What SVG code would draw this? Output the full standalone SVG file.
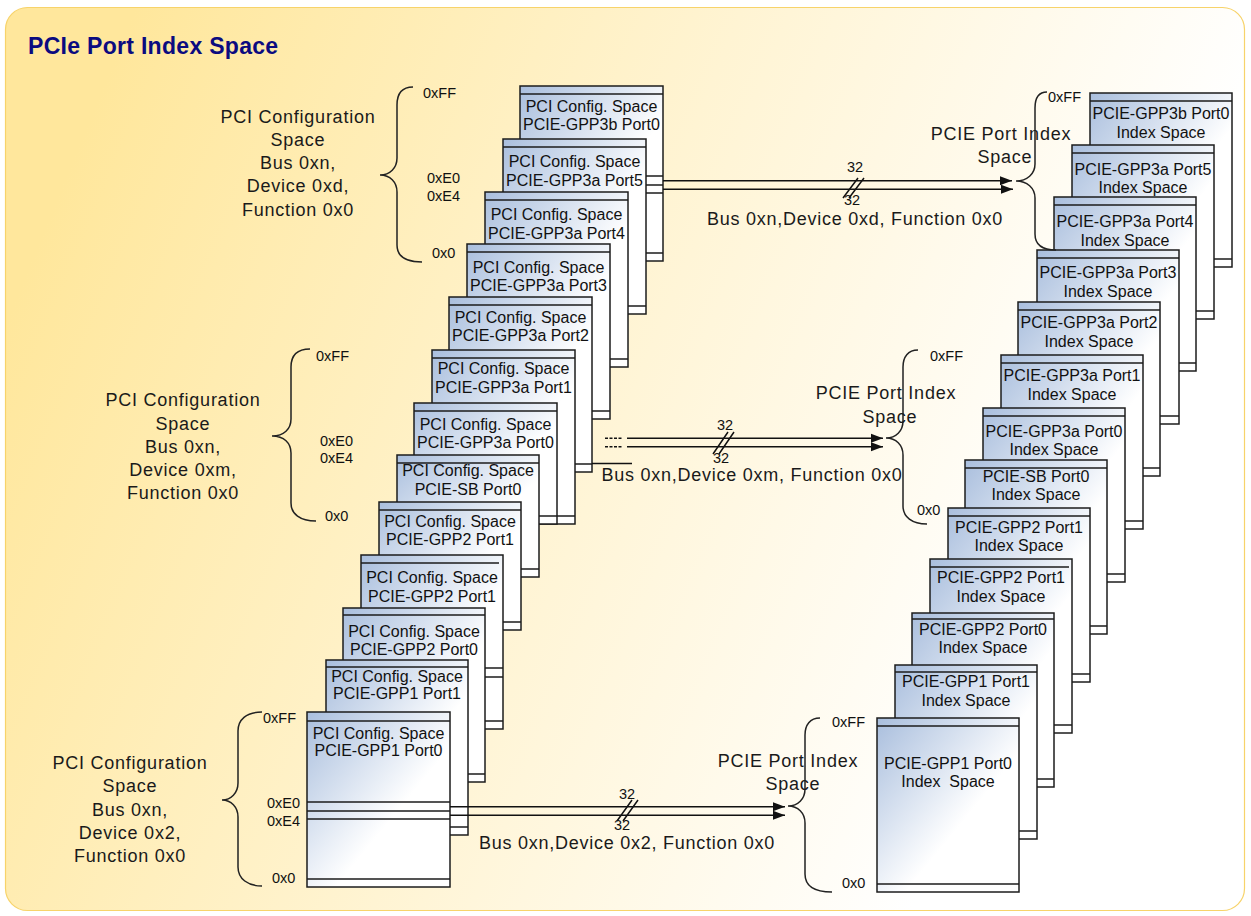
<svg xmlns="http://www.w3.org/2000/svg" width="1251" height="916" viewBox="0 0 1251 916">
<defs>
<linearGradient id="bg" x1="0" y1="0.35" x2="1" y2="0.65">
<stop offset="0" stop-color="#FFE79C"/>
<stop offset="0.45" stop-color="#FFF4D3"/>
<stop offset="0.85" stop-color="#FFFFFF"/>
</linearGradient>
<linearGradient id="g" x1="0" y1="0" x2="1" y2="1">
<stop offset="0" stop-color="#A9BEDD"/>
<stop offset="0.3" stop-color="#D3DEEE"/>
<stop offset="0.6" stop-color="#FFFFFF"/>
</linearGradient>
<marker id="ah" markerWidth="12" markerHeight="10" refX="12" refY="5" orient="auto" markerUnits="userSpaceOnUse">
<path d="M0,0.5 L12,5 L0,9.5 z" fill="#111"/>
</marker>
<style>
.bx{fill:url(#g);stroke:#1c1c1c;stroke-width:1.5}
.ln{fill:none;stroke:#1c1c1c;stroke-width:1.5}
.t{font-family:"Liberation Sans",Arial,sans-serif;font-size:16px;fill:#111;text-anchor:middle}
.lb{font-family:"Liberation Sans",Arial,sans-serif;font-size:18px;letter-spacing:0.75px;fill:#1a1a1a;text-anchor:middle}
.hx{font-family:"Liberation Sans",Arial,sans-serif;font-size:14.5px;fill:#111}
.n{font-family:"Liberation Sans",Arial,sans-serif;font-size:14.5px;fill:#111;text-anchor:middle}
.br{fill:none;stroke:#222;stroke-width:1.5}
.cn{fill:none;stroke:#111;stroke-width:1.5}
</style>
</defs>
<rect x="0" y="0" width="1251" height="916" fill="#FFFFFF"/>
<rect x="5.5" y="7.5" width="1239" height="903" rx="22" fill="url(#bg)" stroke="#F7D36A" stroke-width="1.2"/>
<text x="28" y="54" font-family="Liberation Sans, Arial, sans-serif" font-size="23" font-weight="bold" letter-spacing="0.3" fill="#0B0B80">PCIe Port Index Space</text>

<!-- left stack -->
<g id="L0"><rect class="bx" x="520" y="86" width="143" height="175"/><path class="ln" d="M520 94H663M520 176H663M520 185H663M520 193H663M520 253H663"/><text class="t" x="591.5" y="112">PCI Config. Space</text><text class="t" x="591.5" y="130">PCIE-GPP3b Port0</text></g>
<g id="L1"><rect class="bx" x="503" y="139" width="143" height="175"/><path class="ln" d="M503 147H646M503 306H646"/><text class="t" x="574.5" y="167">PCI Config. Space</text><text class="t" x="574.5" y="186">PCIE-GPP3a Port5</text></g>
<g id="L2"><rect class="bx" x="485" y="192" width="143" height="175"/><path class="ln" d="M485 200H628M485 359H628"/><text class="t" x="556.5" y="220">PCI Config. Space</text><text class="t" x="556.5" y="239">PCIE-GPP3a Port4</text></g>
<g id="L3"><rect class="bx" x="467" y="244" width="143" height="175"/><path class="ln" d="M467 252H610M467 411H610"/><text class="t" x="538.5" y="273">PCI Config. Space</text><text class="t" x="538.5" y="291">PCIE-GPP3a Port3</text></g>
<g id="L4"><rect class="bx" x="449" y="297" width="143" height="175"/><path class="ln" d="M449 305H592M449 464H592"/><text class="t" x="520.5" y="323">PCI Config. Space</text><text class="t" x="520.5" y="341">PCIE-GPP3a Port2</text></g>
<g id="L5"><rect class="bx" x="432" y="350" width="143" height="174"/><path class="ln" d="M432 358H575M432 516H575"/><text class="t" x="503.5" y="374">PCI Config. Space</text><text class="t" x="503.5" y="393">PCIE-GPP3a Port1</text></g>
<g id="L6"><rect class="bx" x="414" y="403" width="143" height="121"/><path class="ln" d="M414 411H557M414 516H557"/><text class="t" x="485.5" y="430">PCI Config. Space</text><text class="t" x="485.5" y="448">PCIE-GPP3a Port0</text></g>
<g id="L7"><rect class="bx" x="397" y="455" width="142" height="122"/><path class="ln" d="M397 463H539M397 569H539"/><text class="t" x="468" y="476">PCI Config. Space</text><text class="t" x="468" y="495">PCIE-SB Port0</text></g>
<g id="L8"><rect class="bx" x="379" y="502" width="142" height="128"/><path class="ln" d="M379 510H521M379 622H521"/><text class="t" x="450" y="527">PCI Config. Space</text><text class="t" x="450" y="545">PCIE-GPP2 Port1</text></g>
<g id="L9"><rect class="bx" x="361" y="555" width="142" height="174"/><path class="ln" d="M361 563H499M361 668H503M361 677H503M361 721H503"/><text class="t" x="432" y="583">PCI Config. Space</text><text class="t" x="432" y="602">PCIE-GPP2 Port1</text></g>
<g id="L10"><rect class="bx" x="343" y="608" width="142" height="174"/><path class="ln" d="M343 615H485M343 774H485"/><text class="t" x="414" y="637">PCI Config. Space</text><text class="t" x="414" y="655">PCIE-GPP2 Port0</text></g>
<g id="L11"><rect class="bx" x="326" y="660" width="142" height="175"/><path class="ln" d="M326 667H468M326 827H468"/><text class="t" x="397" y="682">PCI Config. Space</text><text class="t" x="397" y="699">PCIE-GPP1 Port1</text></g>
<g id="L12"><rect class="bx" x="307" y="712" width="143" height="175"/><path class="ln" d="M307 721H450M307 802H450M307 811H450M307 819H450M307 879H450"/><text class="t" x="378.5" y="739">PCI Config. Space</text><text class="t" x="378.5" y="756">PCIE-GPP1 Port0</text></g>

<!-- right stack -->
<g id="R0"><rect class="bx" x="1090" y="93" width="142" height="174"/><path class="ln" d="M1090 101H1232M1090 259H1232"/><text class="t" x="1161" y="119">PCIE-GPP3b Port0</text><text class="t" x="1161" y="138">Index Space</text></g>
<g id="R1"><rect class="bx" x="1072" y="145" width="142" height="174"/><path class="ln" d="M1072 153H1214M1072 311H1214"/><text class="t" x="1143" y="175">PCIE-GPP3a Port5</text><text class="t" x="1143" y="193">Index Space</text></g>
<g id="R2"><rect class="bx" x="1054" y="197" width="142" height="174"/><path class="ln" d="M1054 205H1196M1054 363H1196"/><text class="t" x="1125" y="227">PCIE-GPP3a Port4</text><text class="t" x="1125" y="246">Index Space</text></g>
<g id="R3"><rect class="bx" x="1037" y="250" width="142" height="174"/><path class="ln" d="M1037 258H1179M1037 416H1179"/><text class="t" x="1108" y="278">PCIE-GPP3a Port3</text><text class="t" x="1108" y="297">Index Space</text></g>
<g id="R4"><rect class="bx" x="1018" y="302" width="142" height="174"/><path class="ln" d="M1018 310H1160M1018 468H1160"/><text class="t" x="1089" y="328">PCIE-GPP3a Port2</text><text class="t" x="1089" y="347">Index Space</text></g>
<g id="R5"><rect class="bx" x="1001" y="355" width="142" height="174"/><path class="ln" d="M1001 363H1143M1001 521H1143"/><text class="t" x="1072" y="381">PCIE-GPP3a Port1</text><text class="t" x="1072" y="400">Index Space</text></g>
<g id="R6"><rect class="bx" x="983" y="408" width="142" height="174"/><path class="ln" d="M983 416H1125M983 574H1125"/><text class="t" x="1054" y="437">PCIE-GPP3a Port0</text><text class="t" x="1054" y="455">Index Space</text></g>
<g id="R7"><rect class="bx" x="965" y="460" width="142" height="174"/><path class="ln" d="M965 468H1107M965 626H1107"/><text class="t" x="1036" y="482">PCIE-SB Port0</text><text class="t" x="1036" y="500">Index Space</text></g>
<g id="R8"><rect class="bx" x="948" y="508" width="142" height="174"/><path class="ln" d="M948 516H1090M948 674H1090"/><text class="t" x="1019" y="533">PCIE-GPP2 Port1</text><text class="t" x="1019" y="551">Index Space</text></g>
<g id="R9"><rect class="bx" x="930" y="559" width="142" height="174"/><path class="ln" d="M930 567H1069M930 725H1072"/><text class="t" x="1001" y="583">PCIE-GPP2 Port1</text><text class="t" x="1001" y="602">Index Space</text></g>
<g id="R10"><rect class="bx" x="912" y="613" width="142" height="174"/><path class="ln" d="M912 619H1054M912 779H1054"/><text class="t" x="983" y="635">PCIE-GPP2 Port0</text><text class="t" x="983" y="653">Index Space</text></g>
<g id="R11"><rect class="bx" x="895" y="665" width="142" height="174"/><path class="ln" d="M895 672H1037M895 831H1037"/><text class="t" x="966" y="687">PCIE-GPP1 Port1</text><text class="t" x="966" y="706">Index Space</text></g>
<g id="R12"><rect class="bx" x="877" y="718" width="142" height="174"/><path class="ln" d="M877 726H1019M877 884H1019"/><text class="t" x="948" y="769">PCIE-GPP1 Port0</text><text class="t" x="948" y="787" style="white-space:pre">Index  Space</text></g>

<!-- braces and range labels -->
<g id="bL1">
<path class="br" d="M413,87 C402,87 397,94 397,105 L397,158 C397,168 390,175 380,175 C390,175 397,182 397,192 L397,245 C397,256 405,262 422,262"/>
<text class="hx" x="423" y="98">0xFF</text><text class="hx" x="427" y="183">0xE0</text><text class="hx" x="427" y="201">0xE4</text><text class="hx" x="432" y="258">0x0</text>
<text class="lb" x="298" y="123">PCI Configuration</text><text class="lb" x="298" y="146">Space</text><text class="lb" x="298" y="169">Bus 0xn,</text><text class="lb" x="298" y="192">Device 0xd,</text><text class="lb" x="298" y="216">Function 0x0</text>
</g>
<g id="bL2">
<path class="br" d="M310,349 C297,349 291,356 291,367 L291,419 C291,429 284,436 272,436 C284,436 291,443 291,453 L291,503 C291,514 300,521 316,521"/>
<text class="hx" x="316" y="361">0xFF</text><text class="hx" x="320" y="446">0xE0</text><text class="hx" x="320" y="463">0xE4</text><text class="hx" x="325" y="521">0x0</text>
<text class="lb" x="183" y="406">PCI Configuration</text><text class="lb" x="183" y="430">Space</text><text class="lb" x="183" y="453">Bus 0xn,</text><text class="lb" x="183" y="476">Device 0xm,</text><text class="lb" x="183" y="499">Function 0x0</text>
</g>
<g id="bL3">
<path class="br" d="M262,712 C246,712 238,720 238,731 L238,783 C238,793 231,800 222,800 C231,800 238,807 238,817 L238,867 C238,879 248,886 262,886"/>
<text class="hx" x="263" y="723">0xFF</text><text class="hx" x="267" y="808">0xE0</text><text class="hx" x="267" y="826">0xE4</text><text class="hx" x="272" y="883">0x0</text>
<text class="lb" x="130" y="769">PCI Configuration</text><text class="lb" x="130" y="792">Space</text><text class="lb" x="130" y="816">Bus 0xn,</text><text class="lb" x="130" y="839">Device 0x2,</text><text class="lb" x="130" y="862">Function 0x0</text>
</g>
<g id="bR1">
<path class="br" d="M1047,92 C1039,92 1035,98 1035,108 L1035,164 C1035,174 1027,181 1016,181 C1027,181 1035,188 1035,198 L1035,234 C1035,245 1043,250 1056,250"/>
<text class="hx" x="1048" y="102">0xFF</text>
<text class="lb" x="1001" y="140">PCIE Port Index</text><text class="lb" x="1005" y="163">Space</text>
</g>
<g id="bR2">
<path class="br" d="M918,350 C908,350 903,357 903,367 L903,421 C903,431 896,438 886,438 C896,438 903,445 903,455 L903,506 C903,517 912,524 927,524"/>
<text class="hx" x="930" y="361">0xFF</text><text class="hx" x="917" y="515">0x0</text>
<text class="lb" x="886" y="399">PCIE Port Index</text><text class="lb" x="890" y="423">Space</text>
</g>
<g id="bR3">
<path class="br" d="M820,718 C810,718 805,725 805,735 L805,789 C805,799 798,806 788,806 C798,806 805,813 805,823 L805,874 C805,886 815,892 832,892"/>
<text class="hx" x="832" y="727">0xFF</text><text class="hx" x="842" y="888">0x0</text>
<text class="lb" x="788" y="767">PCIE Port Index</text><text class="lb" x="793" y="790">Space</text>
</g>

<!-- connectors -->
<g id="connectors">
<path class="cn" d="M663 180.7H1012" marker-end="url(#ah)"/>
<path class="cn" d="M663 189.3H1013" marker-end="url(#ah)"/>
<path class="cn" d="M843 198L858 178M849 198L864 178"/>
<text class="n" x="855" y="172">32</text><text class="n" x="852" y="205">32</text>
<text class="lb" x="855" y="225">Bus 0xn,Device 0xd, Function 0x0</text>

<path class="cn" d="M605 438.3H623M605 446.7H623" stroke-dasharray="3 1.5"/>
<path class="cn" d="M627 438.3H883" marker-end="url(#ah)"/>
<path class="cn" d="M627 446.7H883" marker-end="url(#ah)"/>
<path class="cn" d="M713 454L728 432M719 454L734 432"/>
<text class="n" x="725" y="430">32</text><text class="n" x="721" y="463">32</text>
<path class="cn" d="M592 463.5H632"/>
<text class="lb" x="752" y="481">Bus 0xn,Device 0xm, Function 0x0</text>

<path class="cn" d="M450 806.7H785" marker-end="url(#ah)"/>
<path class="cn" d="M450 815.3H785" marker-end="url(#ah)"/>
<path class="cn" d="M617 821L632 800M623 821L638 800"/>
<text class="n" x="627" y="799">32</text><text class="n" x="622" y="830">32</text>
<text class="lb" x="627" y="849">Bus 0xn,Device 0x2, Function 0x0</text>
</g>
</svg>
